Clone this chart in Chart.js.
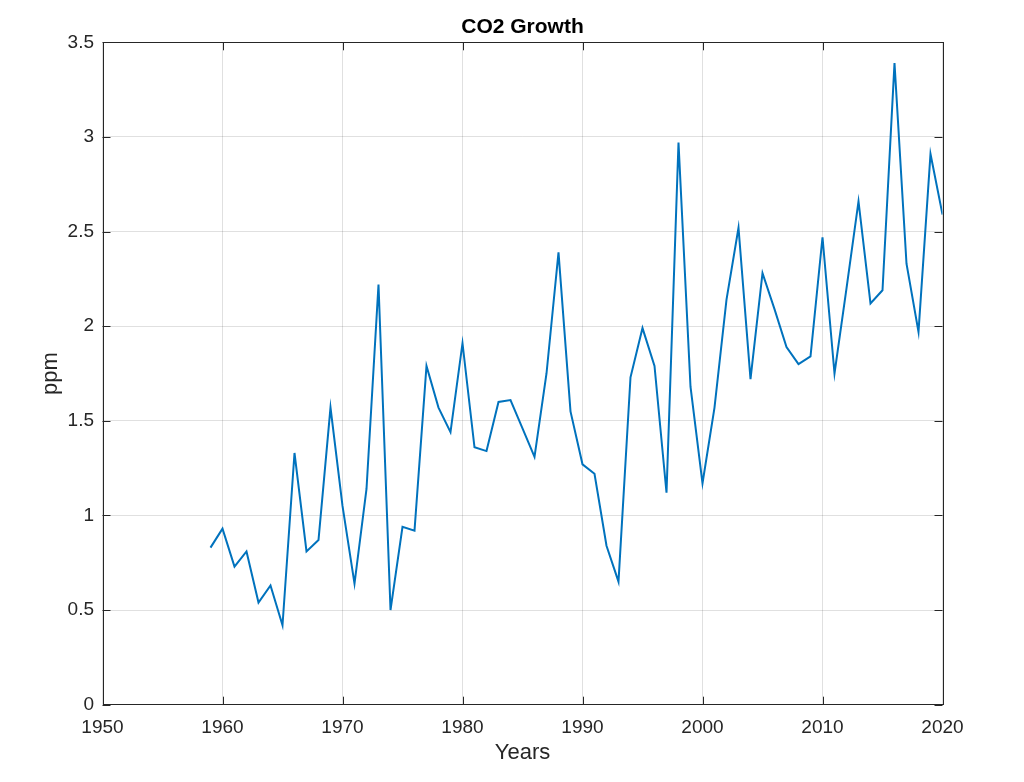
<!DOCTYPE html>
<html>
<head>
<meta charset="utf-8">
<title>CO2 Growth</title>
<script src="https://cdn.jsdelivr.net/npm/chart.js@4/dist/chart.umd.min.js"></script>
<style>
  html, body { margin: 0; padding: 0; background: #fff; }
  #wrap { width: 1024px; height: 782px; }
</style>
</head>
<body>
<div id="wrap"><canvas id="chart" width="1024" height="782"></canvas></div>
<script>
// data
const years = [
  1959, 1960, 1961, 1962, 1963, 1964, 1965, 1966, 1967, 1968,
  1969, 1970, 1971, 1972, 1973, 1974, 1975, 1976, 1977, 1978,
  1979, 1980, 1981, 1982, 1983, 1984, 1985, 1986, 1987, 1988,
  1989, 1990, 1991, 1992, 1993, 1994, 1995, 1996, 1997, 1998,
  1999, 2000, 2001, 2002, 2003, 2004, 2005, 2006, 2007, 2008,
  2009, 2010, 2011, 2012, 2013, 2014, 2015, 2016, 2017, 2018,
  2019, 2020
];
const growth = [
  0.83, 0.93, 0.73, 0.81, 0.54, 0.63, 0.42, 1.33, 0.81, 0.87,
  1.57, 1.05, 0.64, 1.14, 2.22, 0.50, 0.94, 0.92, 1.79, 1.57,
  1.44, 1.91, 1.36, 1.34, 1.60, 1.61, 1.46, 1.31, 1.75, 2.39,
  1.55, 1.27, 1.22, 0.84, 0.65, 1.73, 1.99, 1.79, 1.12, 2.97,
  1.68, 1.17, 1.57, 2.14, 2.52, 1.72, 2.28, 2.09, 1.89, 1.80,
  1.84, 2.47, 1.75, 2.20, 2.66, 2.12, 2.19, 3.39, 2.33, 1.97,
  2.91, 2.59
];
const xTicks = [1950, 1960, 1970, 1980, 1990, 2000, 2010, 2020];
const yTicks = [0, 0.5, 1, 1.5, 2, 2.5, 3, 3.5];
const chartTitle = "CO2 Growth";

const FONT = "'Liberation Sans', Arial, Helvetica, sans-serif";
const INK = "#262626";

// box round the axes with inward ticks, and the title centred on the axes
const boxPlugin = {
  id: "boxPlugin",
  afterDraw(chart) {
    const { ctx, chartArea: a, scales } = chart;
    const len = 8;
    ctx.save();
    ctx.strokeStyle = INK;
    ctx.lineWidth = 1;
    ctx.beginPath();
    xTicks.forEach(v => {
      const px = Math.round(scales.x.getPixelForValue(v)) + 0.5;
      ctx.moveTo(px, a.bottom); ctx.lineTo(px, a.bottom - len);
      ctx.moveTo(px, a.top); ctx.lineTo(px, a.top + len);
    });
    yTicks.forEach(v => {
      const py = Math.round(scales.y.getPixelForValue(v)) + 0.5;
      ctx.moveTo(a.left, py); ctx.lineTo(a.left + len, py);
      ctx.moveTo(a.right, py); ctx.lineTo(a.right - len, py);
    });
    ctx.stroke();
    ctx.strokeRect(Math.round(a.left) + 0.5, Math.round(a.top) + 0.5,
      Math.round(a.right - a.left), Math.round(a.bottom - a.top));

    ctx.fillStyle = "#000";
    ctx.font = "bold 21px " + FONT;
    ctx.textAlign = "center";
    ctx.textBaseline = "middle";
    ctx.fillText(chartTitle, (a.left + a.right) / 2, 27.5);
    ctx.restore();
  }
};

new Chart(document.getElementById("chart").getContext("2d"), {
  type: "line",
  data: {
    datasets: [{
      label: chartTitle,
      data: years.map((y, i) => ({ x: y, y: growth[i] })),
      borderColor: "#0072BD",
      borderWidth: 2,
      pointRadius: 0,
      tension: 0,
      fill: false
    }]
  },
  options: {
    responsive: false,
    animation: false,
    devicePixelRatio: 1,
    layout: { padding: { left: 0, right: 81.5, top: 42.3, bottom: 0 } },
    plugins: {
      legend: { display: false },
      tooltip: { enabled: false },
      title: { display: false }
    },
    scales: {
      x: {
        type: "linear",
        min: 1950,
        max: 2020,
        afterFit: s => { s.height = 77.3; },
        afterBuildTicks: s => { s.ticks = xTicks.map(v => ({ value: v })); },
        grid: { color: "rgba(0,0,0,0.12)", drawTicks: false },
        border: { display: false },
        ticks: {
          color: INK,
          padding: 12,
          maxRotation: 0,
          font: { family: FONT, size: 19 },
          callback: v => String(v)
        },
        title: {
          display: true,
          text: "Years",
          color: INK,
          font: { family: FONT, size: 22 },
          padding: { top: 0, bottom: 16 }
        }
      },
      y: {
        min: 0,
        max: 3.5,
        afterFit: s => { s.width = 102.5; },
        afterBuildTicks: s => { s.ticks = yTicks.map(v => ({ value: v })); },
        grid: { color: "rgba(0,0,0,0.12)", drawTicks: false },
        border: { display: false },
        ticks: {
          color: INK,
          padding: 8.5,
          font: { family: FONT, size: 19 },
          callback: v => String(v)
        },
        title: {
          display: true,
          text: "ppm",
          color: INK,
          font: { family: FONT, size: 22 },
          padding: { top: 38, bottom: 0 }
        }
      }
    }
  },
  plugins: [boxPlugin]
});
</script>
</body>
</html>
